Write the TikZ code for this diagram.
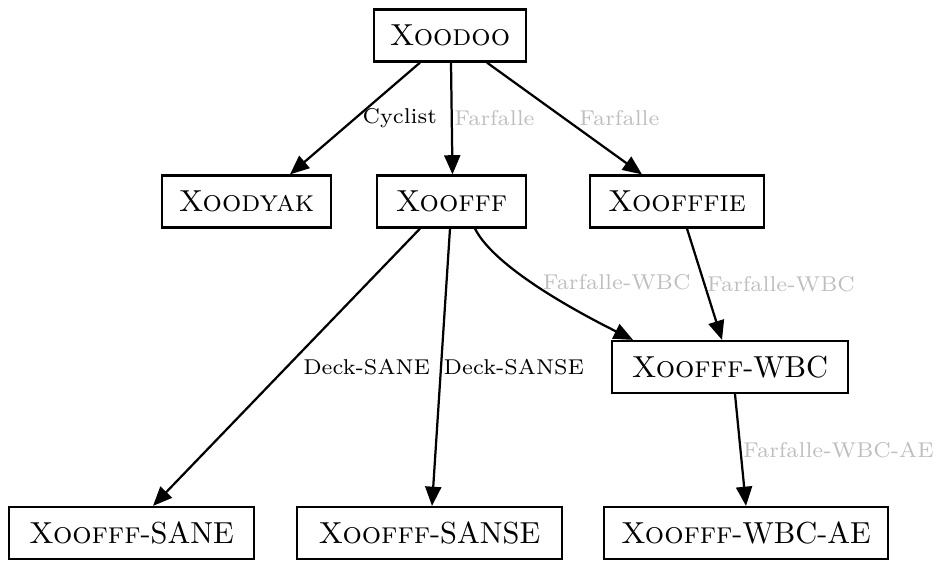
\documentclass[tikz,border=0pt]{standalone}
\usetikzlibrary{arrows.meta,calc}
\definecolor{lblgray}{RGB}{190,190,190}
\tikzset{
  blk/.style={
    draw,
    line width=0.7pt,
    inner sep=0pt,
    font=\fontsize{9.5}{11}\selectfont,
    minimum width={#1*0.3125pt},
    minimum height={52*0.3125pt},
  },
  edge/.style={
    line width=0.7pt,
    -{Triangle[length=6pt,width=5pt]},
  },
  elabel/.style={
    anchor=west,
    inner sep=0.5pt,
    font=\fontsize{6.7}{8}\selectfont,
  },
  faint/.style={
    elabel,
    text=lblgray,
  }
}

\begin{document}
\begin{tikzpicture}[x=0.3125pt, y=-0.3125pt]
        \useasboundingbox (0,0) rectangle (936,560);

        \node [blk=152] (xoodoo) at (450,35.5) {\textsc{Xoodoo}};

        \node [blk=169] (xoodyak) at (246.5,201.5) {\textsc{Xoodyak}};
        \node [blk=149] (xoofff) at (451.5,201.5) {\textsc{Xoofff}};
        \node [blk=174] (xoofffie) at (677,201.5) {\textsc{Xoofffie}};

        \node [blk=236] (wbc) at (730,367) {\textsc{Xoofff}-WBC};

        \node [blk=245] (sane) at (131.5,533) {\textsc{Xoofff}-SANE};
        \node [blk=265] (sanse) at (429.5,533) {\textsc{Xoofff}-SANSE};
        \node [blk=284] (wbcae) at (746,533) {\textsc{Xoofff}-WBC-AE};

        \draw [edge] ($(xoodoo.south)+(-30,0)$) -- node [elabel, xshift=1.5pt] {Cyclist} ($(xoodyak.north)+(43.5,0)$);
        \draw [edge] ($(xoodoo.south)+(1,0)$) -- node [faint] {Farfalle} ($(xoofff.north)+(1,0)$);
        \draw [edge] ($(xoodoo.south)+(37,0)$) -- node [faint, xshift=3.8pt] {Farfalle} ($(xoofffie.north)+(-35,0)$);

        \draw [edge] ($(xoofff.south)+(-31.5,0)$) -- node [elabel, xshift=4.4pt] {Deck-SANE} ($(sane.north)+(21.5,0)$);
        \draw [edge] ($(xoofff.south)+(-1.5,0)$) -- node [elabel] {Deck-SANSE} ($(sanse.north)+(2.5,0)$);
        \draw [edge] ($(xoofff.south)+(23.5,0)$) .. controls +(20,40) and +(-50,-25) .. node [faint, xshift=-0.8pt, yshift=2.5pt] {Farfalle-WBC} ($(wbc.north)+(-97,0)$);

        \draw [edge] ($(xoofffie.south)+(10,0)$) -- node [faint] {Farfalle-WBC} ($(wbc.north)+(-8,0)$);
        \draw [edge] ($(wbc.south)+(5,0)$) -- node [faint] {Farfalle-WBC-AE} ($(wbcae.north)+(0,0)$);
      \end{tikzpicture}
\end{document}
